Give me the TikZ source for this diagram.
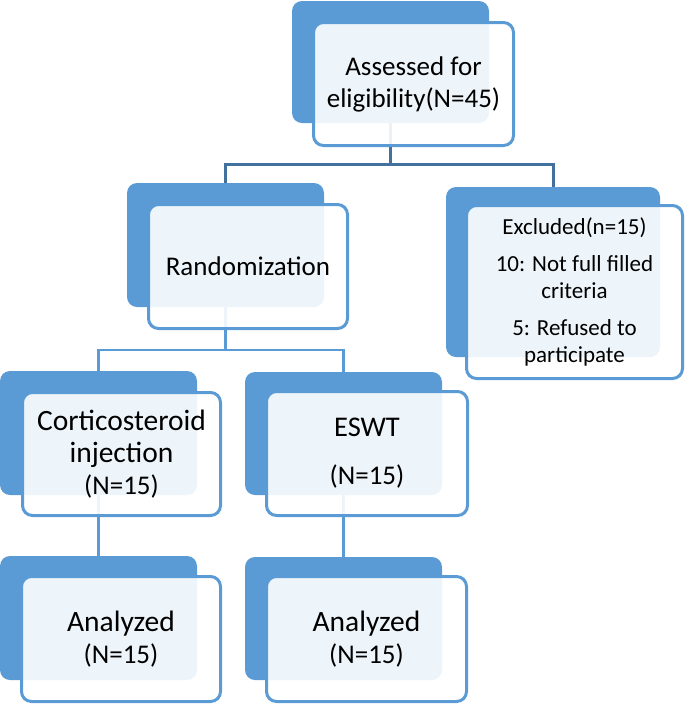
\documentclass[tikz,border=0pt]{standalone}
\usepackage{fontspec}
\setmainfont{Carlito}
\definecolor{boxblue}{HTML}{5B9BD5}
\definecolor{linedark}{HTML}{41719C}
\newcommand{\bigword}[1]{{\fontsize{29.5}{32}\selectfont #1}}
\tikzset{
  back/.style={draw=none, fill=boxblue, rounded corners=10pt, inner sep=0pt},
  front/.style={draw=boxblue, line width=3pt, fill=white, fill opacity=0.9, text opacity=1,
     rounded corners=10pt, inner sep=0pt, align=center, font=\fontsize{27}{32}\selectfont},
  conntop/.style={draw=linedark, line width=3pt},
  conn/.style={draw=boxblue, line width=2.8pt},
}
\begin{document}
\begin{tikzpicture}[x=1pt, y=-1pt]
\useasboundingbox (0,0) rectangle (685,705);
% back boxes
\node[back, minimum width=197pt, minimum height=122pt] (topd) at (390.5,62) {};
\node[back, minimum width=197pt, minimum height=124pt] (randd) at (225.5,245) {};
\node[back, minimum width=214pt, minimum height=170pt] (exd) at (553,272) {};
\node[back, minimum width=197pt, minimum height=124pt] (cortd) at (98.5,433) {};
\node[back, minimum width=197pt, minimum height=123pt] (eswd) at (343.5,433.5) {};
\node[back, minimum width=197pt, minimum height=124pt] (anad) at (98.5,618) {};
\node[back, minimum width=197pt, minimum height=123pt] (anbd) at (343.5,618.5) {};
% connectors (behind front boxes)
\coordinate (j1) at (0,164);
\coordinate (j2) at (0,350);
\draw[conntop] (topd.south) -- (topd.south |- j1) -| (randd.north);
\draw[conntop] (topd.south |- j1) -| (exd.north);
\draw[conn] (randd.south) -- (randd.south |- j2) -| (cortd.north);
\draw[conn] (randd.south |- j2) -| (eswd.north);
\draw[conn] (cortd.south) -- (anad.north);
\draw[conn] (eswd.south) -- (anbd.north);
% front boxes
\node[front, minimum width=200pt, minimum height=123pt] (top) at (413.5,84) {Assessed for\\eligibility(N=45)};
\node[front, minimum width=199pt, minimum height=124pt] (rand) at (248,266.5) {Randomization};
\node[front, minimum width=216pt, minimum height=173pt, font=\fontsize{23}{27}\selectfont] (ex) at (574.5,292) {Excluded(n=15)\\[10pt]10: Not full filled\\criteria\\[10pt]5: Refused to\\participate};
\node[front, minimum width=198pt, minimum height=123pt] (cort) at (121.5,454) {\bigword{Corticosteroid}\\\bigword{injection}\\(N=15)};
\node[front, minimum width=201pt, minimum height=124pt] (esw) at (367,453.5) {{\fontsize{28.5}{32}\selectfont ESWT}\\[16pt](N=15)};
\node[front, minimum width=199pt, minimum height=125pt] (ana) at (121,639) {\bigword{Analyzed}\\(N=15)};
\node[front, minimum width=200pt, minimum height=125pt] (anb) at (366.5,639) {\bigword{Analyzed}\\(N=15)};
\end{tikzpicture}
\end{document}
